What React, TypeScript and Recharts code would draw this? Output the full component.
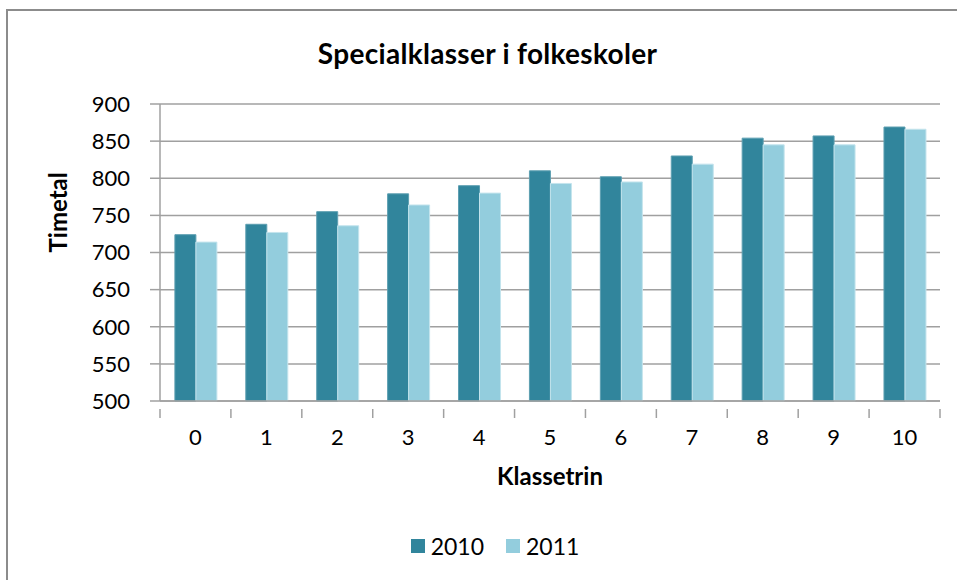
import React from "react";
import { BarChart, Bar, XAxis, YAxis, CartesianGrid, Legend } from "recharts";

const klassetrin = ["0", "1", "2", "3", "4", "5", "6", "7", "8", "9", "10"];
const timer2010 = [724, 738, 755, 779, 790, 810, 802, 830, 854, 857, 869];
const timer2011 = [714, 727, 736, 764, 780, 793, 795, 819, 845, 845, 866];
const yTicks = [500, 550, 600, 650, 700, 750, 800, 850, 900];

const data = klassetrin.map((k, i) => ({ k, y2010: timer2010[i], y2011: timer2011[i] }));

const FONT = "Lato, 'Open Sans', sans-serif";
const AXIS_GRAY = "#a0a0a0";
const BAND = (940 - 160) / klassetrin.length;

const XTick = (props: any) => {
  const { x, y, payload, index } = props;
  const last = index === klassetrin.length - 1;
  return (
    <g>
      <line x1={x - BAND / 2} y1={y} x2={x - BAND / 2} y2={y + 9} stroke={AXIS_GRAY} strokeWidth={1.5} />
      {last && <line x1={x + BAND / 2} y1={y} x2={x + BAND / 2} y2={y + 9} stroke={AXIS_GRAY} strokeWidth={1.5} />}
      <text x={x} y={y + 27} textAnchor="middle" dominantBaseline="central" fontFamily={FONT} fontSize={22} fill="#000">
        {payload.value}
      </text>
    </g>
  );
};

const LegendBox = (props: any) => (
  <div style={{ display: "flex", justifyContent: "center", gap: 22, fontFamily: FONT, fontSize: 23 }}>
    {props.payload.map((p: any) => (
      <div key={p.value} style={{ display: "flex", alignItems: "center" }}>
        <span style={{ width: 14, height: 14, background: p.color, display: "inline-block", marginRight: 6 }} />
        <span>{p.value}</span>
      </div>
    ))}
  </div>
);

export default function App() {
  return (
    <div style={{ position: "absolute", left: 0, top: 0, width: 957, height: 580, overflow: "hidden", background: "#fff" }}>
      <div style={{ position: "absolute", left: 6, top: 9, width: 1200, height: 1000, border: "2px solid #8c8c8c" }} />
      <div style={{ position: "absolute", left: 0, top: 36, width: 975, textAlign: "center", fontFamily: FONT, fontWeight: 700, fontSize: 28, letterSpacing: 0.3 }}>
        Specialklasser i folkeskoler
      </div>
      <div style={{ position: "absolute", left: 0, top: 0 }}>
        <BarChart width={957} height={580} data={data} margin={{ top: 104, right: 17, bottom: 0, left: 0 }} barCategoryGap="21%" barGap={0}>
          <CartesianGrid horizontal vertical={false} stroke={AXIS_GRAY} strokeWidth={1.5} />
          <XAxis
            dataKey="k"
            tick={<XTick />}
            tickLine={false}
            axisLine={{ stroke: AXIS_GRAY, strokeWidth: 1.5 }}
            interval={0}
            height={179}
            label={{ value: "Klassetrin", position: "insideTop", offset: 67, fontFamily: FONT, fontWeight: 700, fontSize: 24, fill: "#000" }}
          />
          <YAxis
            domain={[500, 900]}
            ticks={yTicks}
            interval={0}
            width={160}
            tickSize={10}
            tickMargin={20}
            tick={{ fontFamily: FONT, fontSize: 22, fill: "#000" }}
            axisLine={{ stroke: AXIS_GRAY, strokeWidth: 1.5 }}
            tickLine={{ stroke: AXIS_GRAY, strokeWidth: 1.5 }}
            label={{ value: "Timetal", angle: -90, position: "insideLeft", offset: 58, fontFamily: FONT, fontWeight: 700, fontSize: 24, fill: "#000" }}
          />
          <Legend
            layout="horizontal"
            verticalAlign="middle"
            align="center"
            content={<LegendBox />}
            wrapperStyle={{ position: "absolute", top: 532, left: 0, width: 990 }}
          />
          <Bar dataKey="y2010" name="2010" fill="#31859C" stroke="#5d9fb1" strokeWidth={1} isAnimationActive={false} />
          <Bar dataKey="y2011" name="2011" fill="#93CDDD" stroke="#c4e4ed" strokeWidth={1} isAnimationActive={false} />
        </BarChart>
      </div>
    </div>
  );
}
